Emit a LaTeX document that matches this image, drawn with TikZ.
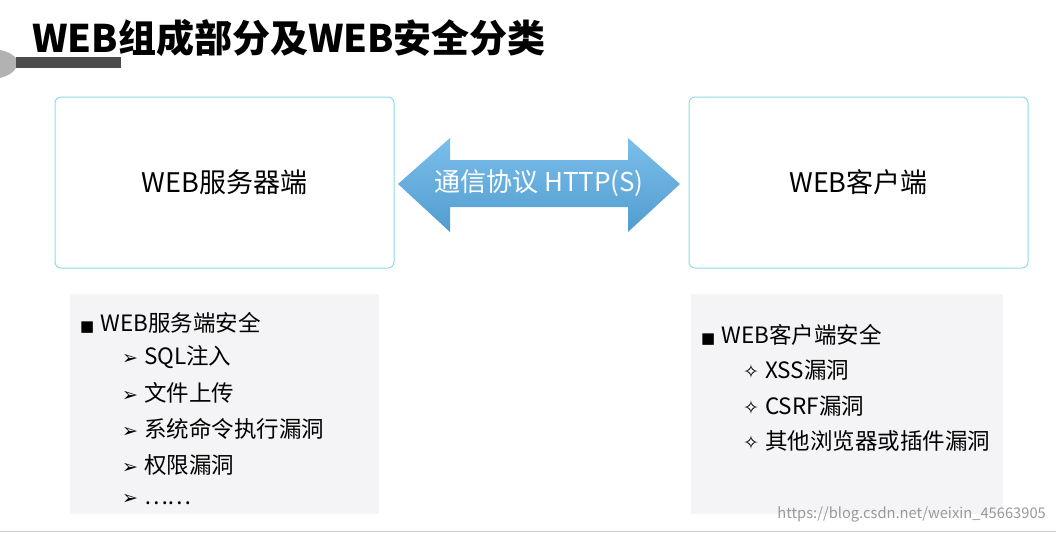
\documentclass[tikz,border=0pt]{standalone}
\usepackage{fontspec}
\setmainfont{Noto Sans CJK SC}
\newfontfamily\symf{DejaVu Sans}
\definecolor{boxc}{HTML}{8FDCE6}
\definecolor{panel}{HTML}{F4F4F6}
\definecolor{arrowc}{HTML}{5AAEE6}
\tikzset{
  mainbox/.style={draw=boxc, line width=1pt, rounded corners=6pt, fill=white},
  txt/.style={anchor=west, inner sep=0pt, font=\fontsize{22.5}{26}\selectfont},
}
\newcommand{\bsq}{{\symf\fontsize{15}{15}\selectfont ■}\hspace{6pt}}
\newcommand{\barr}{{\symf\fontsize{19}{19}\selectfont ➢}\hspace{6pt}}
\newcommand{\bstar}{{\symf\fontsize{19}{19}\selectfont ✧}\hspace{6pt}}
\begin{document}
\begin{tikzpicture}[x=1pt,y=-1pt]
\useasboundingbox (0,0) rectangle (1056,533);
\fill[white] (0,0) rectangle (1056,533);
% header decoration
\fill[gray!60] (0,50) .. controls (10,52) and (14,56) .. (16,58) -- (16,68) .. controls (14,72) and (8,76) .. (0,78) -- cycle;
\fill[black!70] (16,57) rectangle (121,68);
\node[anchor=west, inner sep=0pt, font=\fontsize{38}{42}\selectfont\bfseries] (title) at (32,38) {WEB组成部分及WEB安全分类};
% main boxes
\node[mainbox, minimum width=339pt, minimum height=171pt, font=\fontsize{27}{30}\selectfont] (server) at (224.5,182.5) {WEB服务器端};
\node[mainbox, minimum width=339pt, minimum height=171pt, font=\fontsize{27}{30}\selectfont] (client) at (858.5,182.5) {WEB客户端};
% double arrow
\shade[top color=arrowc!80!white, bottom color=arrowc!90!black] (398,184) -- (450,138) -- (450,160) -- (628,160) -- (628,138) -- (680,184) -- (628,232) -- (628,207) -- (450,207) -- (450,232) -- cycle;
\node[text=white, font=\fontsize{26}{28}\selectfont] (proto) at (539,183) {通信协议 HTTP(S)};
% panels
\fill[panel] (70,294) rectangle (379,514);
\fill[panel] (691,294) rectangle (1003,514);
\node[txt] (s0) at (80,323) {\bsq WEB服务端安全};
\node[txt] (s1) at (122,357) {\barr SQL注入};
\node[txt] (s2) at (122,393) {\barr 文件上传};
\node[txt] (s3) at (122,429) {\barr 系统命令执行漏洞};
\node[txt] (s4) at (122,465) {\barr 权限漏洞};
\node[txt] (s5) at (122,500) {\barr ……};
\node[txt] (c0) at (701,335) {\bsq WEB客户端安全};
\node[txt] (c1) at (743,370) {\bstar XSS漏洞};
\node[txt] (c2) at (743,406) {\bstar CSRF漏洞};
\node[txt] (c3) at (743,441) {\bstar 其他浏览器或插件漏洞};
% bottom line and watermark
\draw[gray!40, line width=1pt] (0,531) -- (1056,531);
\node[anchor=east, text=gray!80, inner sep=0pt, font=\fontsize{14.7}{16}\selectfont] (wm) at (1046,514) {https://blog.csdn.net/weixin\_45663905};
\end{tikzpicture}
\end{document}
